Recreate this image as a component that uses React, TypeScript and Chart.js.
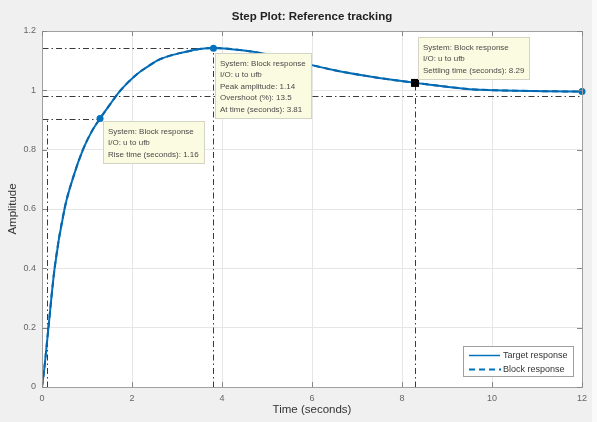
import React, { useEffect, useRef } from 'react';
import { Chart, registerables } from 'chart.js';

Chart.register(...registerables);

// ---- data ----
const timeSeconds = [0, 0.05, 0.13, 0.28, 0.5, 0.7, 0.91, 1.1, 1.29, 1.5, 1.69, 1.9, 2.13, 2.35, 2.58, 2.85, 3.14, 3.5, 3.81, 4.4, 5.0, 5.5, 6.0, 6.5, 7.15, 7.7, 8.26, 9.0, 9.6, 10.5, 11.2, 12];
const targetResponse = [0, 0.06, 0.18, 0.4, 0.6, 0.71, 0.8, 0.86, 0.905, 0.95, 0.99, 1.025, 1.057, 1.08, 1.102, 1.117, 1.128, 1.139, 1.143, 1.136, 1.122, 1.105, 1.085, 1.068, 1.05, 1.037, 1.026, 1.012, 1.003, 0.999, 0.997, 0.996];
const blockResponse = [0, 0.06, 0.18, 0.4, 0.6, 0.71, 0.8, 0.86, 0.905, 0.95, 0.99, 1.025, 1.057, 1.08, 1.102, 1.117, 1.128, 1.139, 1.143, 1.136, 1.122, 1.105, 1.085, 1.068, 1.05, 1.037, 1.026, 1.012, 1.003, 0.999, 0.997, 0.996];
const seriesNames = ['Target response', 'Block response'];

const xMin = 0, xMax = 12, xStep = 2;
const yMin = 0, yMax = 1.2, yStep = 0.2;

const riseStartTime = 0.1;
const riseEndTime = 1.29;
const riseLevel = 0.905;
const peakTime = 3.81;
const peakAmplitude = 1.142;
const settleTime = 8.29;
const settleAmplitude = 1.025;
const settleBand = 0.98;
const finalTime = 12;
const finalAmplitude = 0.996;

const riseTip = ['System: Block response', 'I/O: u to ufb', 'Rise time (seconds): 1.16'];
const peakTip = ['System: Block response', 'I/O: u to ufb', 'Peak amplitude: 1.14', 'Overshoot (%): 13.5', 'At time (seconds): 3.81'];
const settleTip = ['System: Block response', 'I/O: u to ufb', 'Settling time (seconds): 8.29'];

const titleText = 'Step Plot: Reference tracking';
const xTitle = 'Time (seconds)';
const yTitle = 'Amplitude';

const FONT = '"Liberation Sans", Arial, Helvetica, sans-serif';
const BLUE = '#0072BD';

const overlayPlugin = {
  id: 'overlay',
  beforeDraw(chart: any) {
    const { ctx, chartArea: a, width, height } = chart;
    ctx.save();
    ctx.fillStyle = '#f0f0f0';
    ctx.fillRect(0, 0, width, height);
    ctx.fillStyle = '#fafafa';
    ctx.fillRect(592, 0, width - 592, height);
    ctx.fillStyle = '#ffffff';
    ctx.fillRect(a.left, a.top, a.right - a.left, a.bottom - a.top);
    ctx.restore();
  },
  beforeDatasetsDraw(chart: any) {
    const { ctx } = chart;
    const xs = chart.scales.x, ys = chart.scales.y;
    const X = (v: number) => xs.getPixelForValue(v);
    const Y = (v: number) => ys.getPixelForValue(v);
    ctx.save();
    ctx.strokeStyle = '#3a3a3a';
    ctx.lineWidth = 1;
    ctx.setLineDash([6, 3, 1.5, 3]);
    const seg = (x1: number, y1: number, x2: number, y2: number) => {
      ctx.beginPath();
      ctx.moveTo(Math.round(x1) + 0.5, Math.round(y1) + 0.5);
      ctx.lineTo(Math.round(x2) + 0.5, Math.round(y2) + 0.5);
      ctx.stroke();
    };
    seg(X(xMin), Y(riseLevel), X(riseEndTime), Y(riseLevel));
    seg(X(riseStartTime), Y(yMin), X(riseStartTime), Y(riseLevel));
    seg(X(xMin), Y(peakAmplitude), X(peakTime), Y(peakAmplitude));
    seg(X(peakTime), Y(yMin), X(peakTime), Y(peakAmplitude));
    seg(X(xMin), Y(settleBand), X(xMax), Y(settleBand));
    seg(X(settleTime), Y(yMin), X(settleTime), Y(settleAmplitude));
    ctx.restore();
  },
  afterDatasetsDraw(chart: any) {
    const { ctx, chartArea: a } = chart;
    const xs = chart.scales.x, ys = chart.scales.y;
    const X = (v: number) => xs.getPixelForValue(v);
    const Y = (v: number) => ys.getPixelForValue(v);
    ctx.save();

    const dot = (t: number, v: number) => {
      ctx.beginPath();
      ctx.fillStyle = BLUE;
      ctx.arc(X(t), Y(v), 3.5, 0, Math.PI * 2);
      ctx.fill();
    };
    dot(riseEndTime, riseLevel);
    dot(peakTime, peakAmplitude);
    dot(finalTime, finalAmplitude);
    ctx.fillStyle = '#000';
    ctx.fillRect(X(settleTime) - 4, Y(settleAmplitude) - 4, 8, 8);

    const tip = (lines: string[], bx: number, by: number) => {
      ctx.font = `8px ${FONT}`;
      let w = 0;
      lines.forEach((l) => { w = Math.max(w, ctx.measureText(l).width); });
      const bw = Math.round(w + 10);
      const bh = Math.round(10.5 + (lines.length - 1) * 11.5 + 8);
      ctx.fillStyle = '#fbfbe2';
      ctx.fillRect(bx, by, bw, bh);
      ctx.strokeStyle = '#d4d4c4';
      ctx.lineWidth = 1;
      ctx.strokeRect(bx + 0.5, by + 0.5, bw, bh);
      ctx.fillStyle = '#4a4a4a';
      ctx.textAlign = 'left';
      ctx.textBaseline = 'middle';
      lines.forEach((l, i) => ctx.fillText(l, bx + 5, by + 10.5 + i * 11.5));
      return bh;
    };
    tip(riseTip, Math.round(X(riseEndTime)) + 3, Math.round(Y(riseLevel)) + 2);
    tip(peakTip, Math.round(X(peakTime)) + 2, Math.round(Y(peakAmplitude)) + 5);
    tip(settleTip, Math.round(X(settleTime)) + 3, Math.round(Y(settleAmplitude)) - 46);

    ctx.strokeStyle = '#a0a0a0';
    ctx.lineWidth = 1;
    ctx.setLineDash([]);
    ctx.strokeRect(Math.round(a.left) + 0.5, Math.round(a.top) + 0.5, Math.round(a.right - a.left), Math.round(a.bottom - a.top));

    ctx.strokeStyle = '#888';
    const tl = 5;
    for (let t = xMin; t <= xMax + 1e-9; t += xStep) {
      const px = Math.round(X(t)) + 0.5;
      ctx.beginPath();
      ctx.moveTo(px, a.bottom); ctx.lineTo(px, a.bottom - tl);
      ctx.moveTo(px, a.top); ctx.lineTo(px, a.top + tl);
      ctx.stroke();
    }
    for (let v = yMin; v <= yMax + 1e-9; v += yStep) {
      const py = Math.round(Y(v)) + 0.5;
      ctx.beginPath();
      ctx.moveTo(a.left, py); ctx.lineTo(a.left + tl, py);
      ctx.moveTo(a.right, py); ctx.lineTo(a.right - tl, py);
      ctx.stroke();
    }

    const lx = 463, ly = 346, lw = 110, lh = 30;
    ctx.fillStyle = '#fff';
    ctx.fillRect(lx, ly, lw, lh);
    ctx.strokeStyle = '#a0a0a0';
    ctx.strokeRect(lx + 0.5, ly + 0.5, lw, lh);
    ctx.strokeStyle = BLUE;
    ctx.lineWidth = 1.5;
    ctx.beginPath(); ctx.moveTo(469, 355.5); ctx.lineTo(500, 355.5); ctx.stroke();
    ctx.lineWidth = 2;
    ctx.setLineDash([6, 4]);
    ctx.beginPath(); ctx.moveTo(469, 369.5); ctx.lineTo(501, 369.5); ctx.stroke();
    ctx.setLineDash([]);
    ctx.fillStyle = '#333';
    ctx.font = `9px ${FONT}`;
    ctx.textAlign = 'left';
    ctx.textBaseline = 'middle';
    ctx.fillText(seriesNames[0], 503, 355.5);
    ctx.fillText(seriesNames[1], 503, 369.5);

    ctx.fillStyle = '#222';
    ctx.textAlign = 'center';
    ctx.font = `bold 11.5px ${FONT}`;
    ctx.fillText(titleText, (a.left + a.right) / 2, 17);
    ctx.fillStyle = '#333';
    ctx.font = `11.5px ${FONT}`;
    ctx.fillText(xTitle, (a.left + a.right) / 2, 410);
    ctx.translate(13, (a.top + a.bottom) / 2);
    ctx.rotate(-Math.PI / 2);
    ctx.fillText(yTitle, 0, 0);
    ctx.restore();
  },
};

export default function App() {
  const canvasRef = useRef<HTMLCanvasElement | null>(null);

  useEffect(() => {
    const canvas = canvasRef.current;
    if (!canvas) return;
    const chart = new Chart(canvas, {
      type: 'line',
      data: {
        datasets: [
          {
            label: seriesNames[1],
            data: timeSeconds.map((t, i) => ({ x: t, y: blockResponse[i] })),
            borderColor: '#0a64aa',
            borderWidth: 2,
            borderDash: [6, 4],
            pointRadius: 0,
            cubicInterpolationMode: 'monotone',
            fill: false,
          },
          {
            label: seriesNames[0],
            data: timeSeconds.map((t, i) => ({ x: t, y: targetResponse[i] })),
            borderColor: BLUE,
            borderWidth: 2,
            pointRadius: 0,
            cubicInterpolationMode: 'monotone',
            fill: false,
          },
        ],
      },
      options: {
        responsive: false,
        animation: false,
        events: [],
        layout: { padding: { left: 12, right: 15, top: 31, bottom: 15 } },
        plugins: {
          legend: { display: false },
          tooltip: { enabled: false },
          title: { display: false },
        },
        scales: {
          x: {
            type: 'linear',
            min: xMin,
            max: xMax,
            border: { display: false },
            grid: { color: '#e6e6e6', drawTicks: false },
            ticks: {
              stepSize: xStep,
              padding: 6,
              color: '#666',
              font: { size: 9, family: FONT },
              maxRotation: 0,
            },
            afterFit: (s: any) => { s.height = 20; },
          },
          y: {
            type: 'linear',
            min: yMin,
            max: yMax,
            border: { display: false },
            grid: { color: '#e6e6e6', drawTicks: false },
            ticks: {
              stepSize: yStep,
              padding: 6,
              color: '#666',
              font: { size: 9, family: FONT },
              callback: (v: any) => String(Math.round(Number(v) * 10) / 10),
            },
            afterFit: (s: any) => { s.width = 30; },
          },
        },
      },
      plugins: [overlayPlugin],
    } as any);
    return () => chart.destroy();
  }, []);

  return (
    <div style={{ position: 'absolute', left: 0, top: 0, width: 597, height: 422 }}>
      <canvas ref={canvasRef} width={597} height={422} style={{ width: 597, height: 422, display: 'block' }} />
    </div>
  );
}
